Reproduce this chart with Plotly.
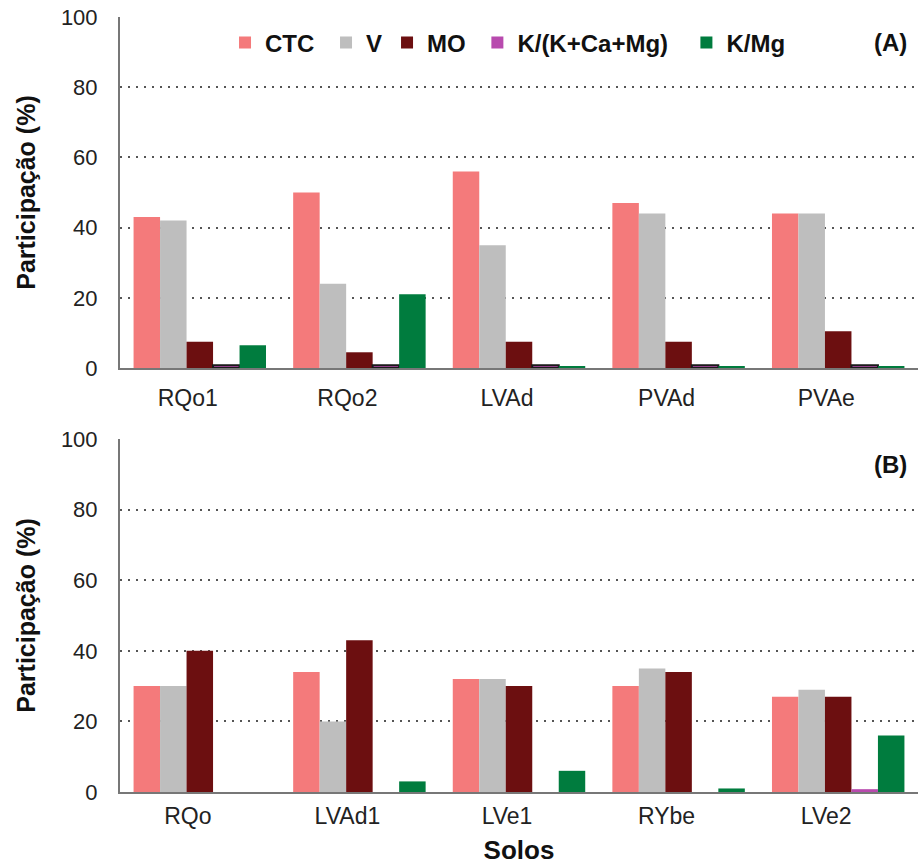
import plotly.graph_objects as go
from plotly.subplots import make_subplots

cats_a = ["RQo1", "RQo2", "LVAd", "PVAd", "PVAe"]
cats_b = ["RQo", "LVAd1", "LVe1", "RYbe", "LVe2"]
series = ["CTC", "V", "MO", "K/(K+Ca+Mg)", "K/Mg"]
colors = ["#F47A7B", "#BEBEBE", "#6C0F10", "#B84AAE", "#007C3E"]

ctc_a = [43, 50, 56, 47, 44]
v_a = [42, 24, 35, 44, 44]
mo_a = [7.5, 4.5, 7.5, 7.5, 10.5]
k_a = [0.8, 0.8, 0.8, 0.8, 0.8]
kmg_a = [6.5, 21, 0.6, 0.6, 0.6]

ctc_b = [30, 34, 32, 30, 27]
v_b = [30, 20, 32, 35, 29]
mo_b = [40, 43, 30, 34, 27]
k_b = [0, 0, 0, 0, 0.8]
kmg_b = [0, 3, 6, 1, 16]

yticks = [0, 20, 40, 60, 80, 100]

FONT = "Liberation Sans, Arial, sans-serif"
NB = "\u00a0"
legend_pad = {"CTC": NB, "V": "", "MO": NB, "K/(K+Ca+Mg)": NB * 2, "K/Mg": ""}

fig = make_subplots(rows=2, cols=1, vertical_spacing=0.09)

data_a = [ctc_a, v_a, mo_a, k_a, kmg_a]
data_b = [ctc_b, v_b, mo_b, k_b, kmg_b]

for i, (name, col) in enumerate(zip(series, colors)):
    line_a = dict(color="#1a1a1a", width=2) if i == 3 else dict(width=0)
    label = "<b>" + name + "</b>" + legend_pad[name]
    fig.add_trace(go.Bar(x=cats_a, y=data_a[i], name=label,
                         marker=dict(color=col, line=line_a),
                         legendgroup=name, showlegend=False), row=1, col=1)
    fig.add_trace(go.Bar(x=cats_b, y=data_b[i], name=label,
                         marker=dict(color=col, line=dict(width=0)),
                         legendgroup=name, showlegend=True), row=2, col=1)

axis_common_y = dict(
    range=[0, 100], tickvals=yticks, showgrid=True, gridcolor="#555555",
    griddash="2px,6px", gridwidth=2, showline=True, linecolor="#777777",
    linewidth=2, ticks="", ticklabelstandoff=16, zeroline=False,
    automargin=False,
    tickfont=dict(family=FONT, size=22, color="#222222"),
    title=dict(text="<b>Participação (%)</b>", standoff=18,
               font=dict(family=FONT, size=25, color="#111111")),
)
axis_common_x = dict(
    showline=True, linecolor="#777777", linewidth=2, ticks="",
    showgrid=False, range=[-0.5, 4.5], ticklabelshift=-12,
    automargin=False,
    tickfont=dict(family=FONT, size=23, color="#222222"),
)

fig.update_yaxes(**axis_common_y, domain=[0.547, 1.0], row=1, col=1)
fig.update_yaxes(**axis_common_y, domain=[0.0, 0.4555], row=2, col=1)
fig.update_xaxes(**axis_common_x, ticklabelstandoff=8, row=1, col=1)
fig.update_xaxes(**axis_common_x, ticklabelstandoff=2, row=2, col=1,
                 title=dict(text="<b>Solos</b>", standoff=20,
                            font=dict(family=FONT, size=26, color="#111111")))

fig.add_annotation(text="<b>(A)</b>", xref="paper", yref="paper",
                   x=0.965, y=0.9665, xanchor="center", yanchor="middle",
                   showarrow=False,
                   font=dict(family=FONT, size=24, color="#111111"))
fig.add_annotation(text="<b>(B)</b>", xref="paper", yref="paper",
                   x=0.966, y=0.422, xanchor="center", yanchor="middle",
                   showarrow=False,
                   font=dict(family=FONT, size=24, color="#111111"))

fig.update_layout(
    width=921, height=865,
    margin=dict(l=120, r=3, t=17, b=73, autoexpand=False),
    paper_bgcolor="white", plot_bgcolor="white",
    barmode="group", bargap=0.17, bargroupgap=0,
    legend=dict(orientation="h", x=0.1316, y=0.9665, xanchor="left",
                yanchor="middle", bgcolor="rgba(0,0,0,0)",
                font=dict(family=FONT, size=24, color="#111111"),
                traceorder="normal"),
    font=dict(family=FONT),
)

fig.write_html("out.html")
